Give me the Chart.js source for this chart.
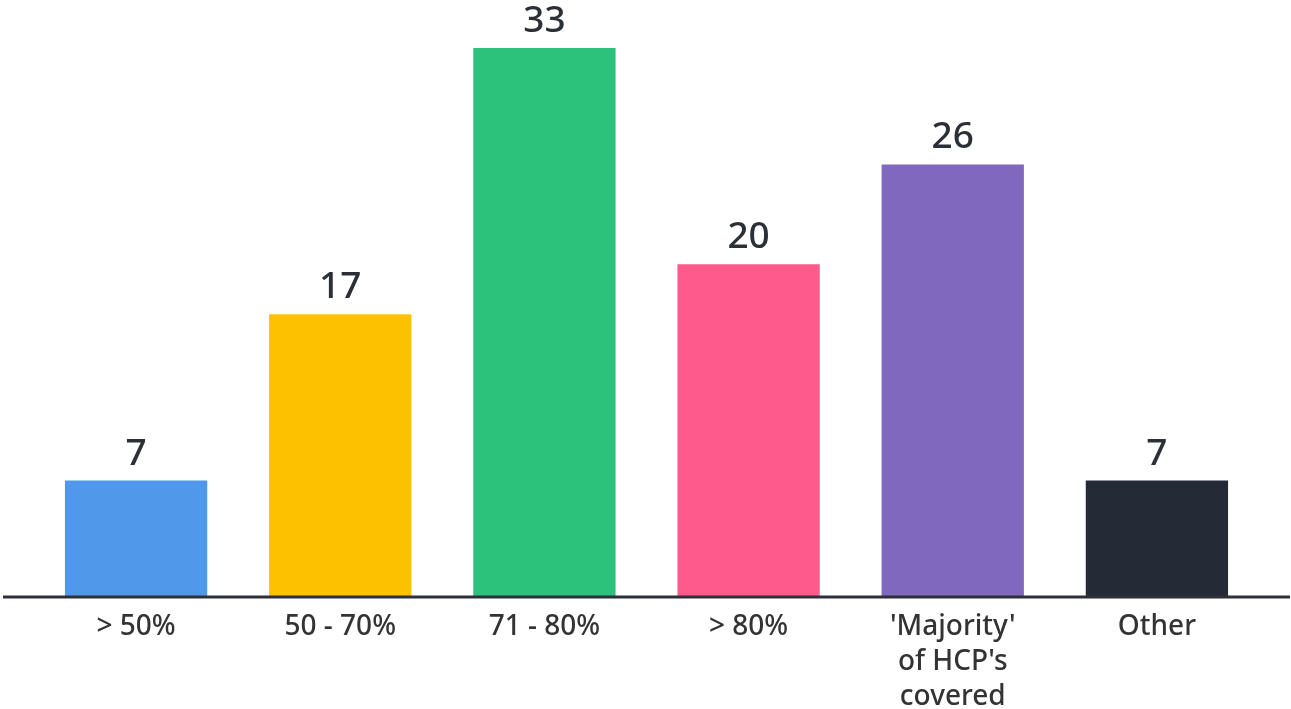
<!DOCTYPE html>
<html>
<head>
<meta charset="utf-8">
<script src="https://cdn.jsdelivr.net/npm/chart.js@4/dist/chart.umd.min.js"></script>
<style>
  html, body { margin: 0; padding: 0; background: #fff; }
  #wrap { width: 1291px; height: 709px; }
</style>
</head>
<body>
<div id="wrap"><canvas id="chart"></canvas></div>
<script>
'use strict';

var labels = ['> 50%', '50 - 70%', '71 - 80%', '> 80%', ["'Majority'", "of HCP's", 'covered'], 'Other'];
var values = [7, 17, 33, 20, 26, 7];
var colors = ['#4f98ea', '#fdc100', '#2cc27c', '#fe5a8b', '#7f69bf', '#252b36'];

var fontName = '"Noto Sans", "Open Sans", sans-serif';

// values above each bar
var valueLabels = {
  id: 'valueLabels',
  afterDatasetsDraw: function(chart) {
    var ctx = chart.ctx;
    var meta = chart.getDatasetMeta(0);
    ctx.save();
    ctx.font = '500 37px ' + fontName;
    ctx.fillStyle = '#2b2f36';
    ctx.textAlign = 'center';
    ctx.textBaseline = 'alphabetic';
    meta.data.forEach(function(bar, i) {
      ctx.fillText(values[i], bar.x, bar.y - 16);
    });
    ctx.restore();
  }
};

// baseline across the whole width
var baseLine = {
  id: 'baseLine',
  afterDatasetsDraw: function(chart) {
    var ctx = chart.ctx;
    var y = chart.scales.y.getPixelForValue(0);
    ctx.save();
    ctx.strokeStyle = '#2d3038';
    ctx.lineWidth = 3;
    ctx.beginPath();
    ctx.moveTo(3, y);
    ctx.lineTo(1290, y);
    ctx.stroke();
    ctx.restore();
  }
};

var ctx = document.getElementById('chart').getContext('2d');
var chart = new Chart(ctx, {
  type: 'bar',
  data: {
    labels: labels,
    datasets: [{
      data: values,
      backgroundColor: colors,
      borderWidth: 0,
      barPercentage: 0.697,
      categoryPercentage: 1
    }]
  },
  options: {
    responsive: true,
    maintainAspectRatio: false,
    animation: false,
    layout: { padding: { top: 48, left: 34, right: 32, bottom: 0 } },
    plugins: { legend: { display: false }, tooltip: { enabled: false } },
    scales: {
      x: {
        grid: { display: false },
        border: { display: false },
        ticks: {
          color: '#333333',
          padding: 5,
          maxRotation: 0,
          autoSkip: false,
          font: { family: fontName, size: 28, weight: '500', lineHeight: 1.25 }
        },
        afterFit: function(scale) { scale.height = 112; }
      },
      y: {
        display: false,
        min: 0,
        max: 33
      }
    }
  },
  plugins: [valueLabels, baseLine]
});
</script>
</body>
</html>
